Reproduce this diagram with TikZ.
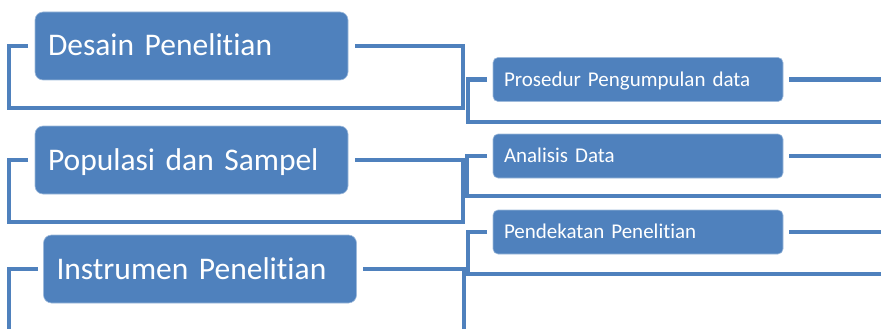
\documentclass[tikz,border=0pt]{standalone}
\usepackage{fontspec}
\setmainfont{Carlito}[Ligatures=NoCommon]
\definecolor{mapblue}{HTML}{4F81BD}
\begin{document}
\begin{tikzpicture}[x=1pt, y=-1pt,
    mainbox/.style={fill=mapblue, draw=mapblue!55!white, line width=0.6pt, rounded corners=8pt,
        text=white, font=\fontsize{31.5}{33}\selectfont, minimum height=68pt, text width=287pt,
        inner xsep=13pt, align=left, text height=20pt, text depth=0pt, outer sep=7pt},
    subbox/.style={fill=mapblue, draw=mapblue!55!white, line width=0.6pt, rounded corners=5pt,
        text=white, font=\fontsize{21}{23}\selectfont, minimum height=44pt, text width=268pt,
        inner xsep=11pt, align=left, text height=13.5pt, text depth=0pt, outer sep=6pt},
    link/.style={draw=mapblue, line width=4.5pt}]
                \clip (0, 0) rectangle (881, 329);

                % Nodes
                \node[mainbox] at (191.5, 46) (desain) {Desain Penelitian};
                \node[mainbox] at (191.5, 160) (populasi) {Populasi dan Sampel};
                \node[mainbox, outer sep=6pt] at (200, 269) (instrumen) {Instrumen Penelitian};

                \node[subbox] at (638, 79.5) (prosedur) {Prosedur Pengumpulan data};
                \node[subbox] at (638, 156) (analisis) {Analisis Data};
                \node[subbox] at (638, 232) (pendekatan) {Pendekatan Penelitian};

                % Corners of the loops
                \coordinate (dl) at (9, 108);
                \coordinate (dr) at (463, 108);
                \coordinate (pl) at (9, 222);
                \coordinate (pr) at (463, 222);
                \coordinate (il) at (9, 345);
                \coordinate (ir) at (464, 345);

                \coordinate (sl1) at (468, 122);
                \coordinate (sr1) at (900, 122);
                \coordinate (sl2) at (467, 196);
                \coordinate (sr2) at (900, 196);
                \coordinate (sl3) at (468, 274);
                \coordinate (sr3) at (900, 274);

                % Edges
                \draw[link] (desain.west) -| (dl) -- (dr) |- (desain.east);

                \draw[link] (populasi.west) -| (pl) -- (pr) |- (populasi.east);

                \draw[link] (instrumen.west) -| (il) -- (ir) |- (instrumen.east);

                \draw[link] (prosedur.west) -| (sl1) -- (sr1) |- (prosedur.east);

                \draw[link] (analisis.west) -| (sl2) -- (sr2) |- (analisis.east);

                \draw[link] (pendekatan.west) -| (sl3) -- (sr3) |- (pendekatan.east);
            \end{tikzpicture}
\end{document}
